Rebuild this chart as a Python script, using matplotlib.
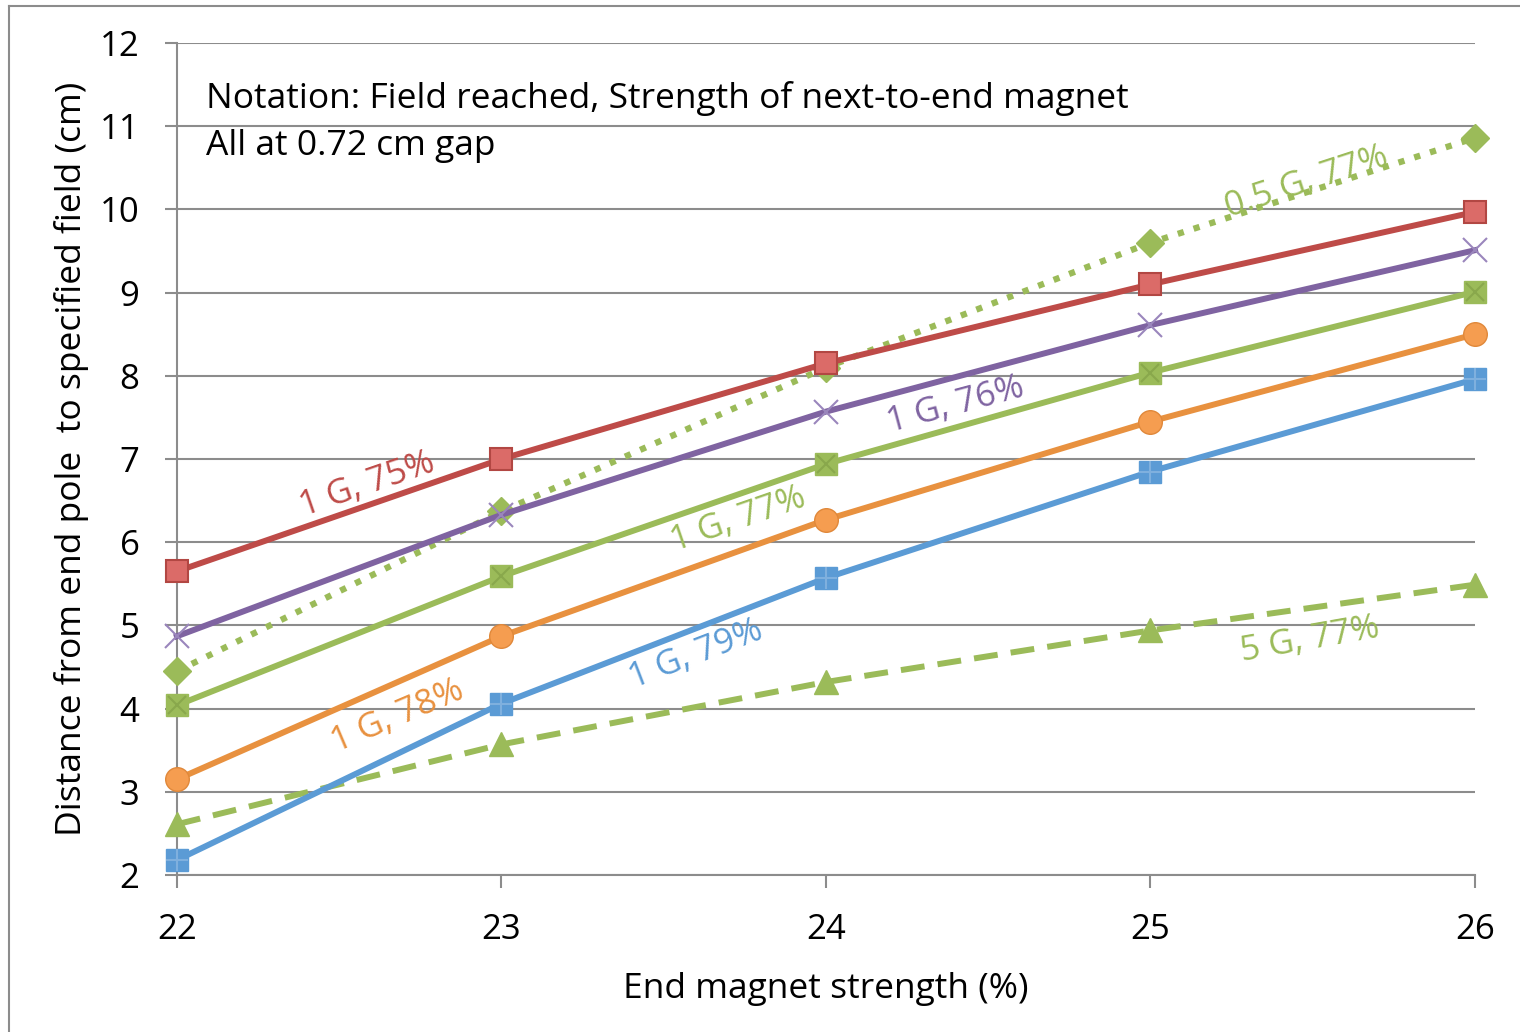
import numpy as np
import matplotlib.pyplot as plt
from matplotlib.lines import Line2D

plt.rcParams['font.family'] = ['Open Sans', 'DejaVu Sans']

# Данные
x = [22, 23, 24, 25, 26]
g1_75 = [5.65, 7.0, 8.15, 9.1, 9.97]
g1_76 = [4.87, 6.33, 7.57, 8.61, 9.51]
g1_77 = [4.04, 5.59, 6.94, 8.04, 9.01]
g1_78 = [3.15, 4.87, 6.27, 7.45, 8.5]
g1_79 = [2.18, 4.06, 5.57, 6.85, 7.96]
g5_77 = [2.61, 3.57, 4.32, 4.94, 5.49]
g05_77 = [4.45, 6.37, 8.1, 9.6, 10.86]

red = '#BE4B48'
purple = '#7F63A1'
green = '#9BBB59'
orange = '#E8913F'
blue = '#5B9BD5'

fig = plt.figure(figsize=(15.2, 10.32), dpi=100)
ax = fig.add_axes([0.1164, 0.1521, 0.854, 0.8062])

lw = 4.3
ax.plot(x, g05_77, ':', color=green, lw=4.5, marker='D', ms=14, mfc=green, mec=green, zorder=3)
ax.plot(x, g5_77, '--', color=green, lw=4.3, dashes=(4, 2.2), marker='^', ms=17, mfc=green, mec=green, zorder=3)
ax.plot(x, g1_79, '-', color=blue, lw=lw, marker='s', ms=16, mfc=blue, mec=blue, zorder=4)
ax.plot(x, g1_79, ' ', marker='+', ms=16, mec='#7FB0DE', mew=1.5, zorder=5)
ax.plot(x, g1_78, '-', color=orange, lw=lw, marker='o', ms=17, mfc='#F59D50', mec='#E0883A', zorder=4)
ax.plot(x, g1_77, '-', color=green, lw=lw, marker='s', ms=16, mfc=green, mec=green, zorder=4)
ax.plot(x, g1_77, ' ', marker='x', ms=13, mec='#89A84C', mew=1.5, zorder=5)
ax.plot(x, g1_76, '-', color=purple, lw=lw, marker='x', ms=17, mec='#9A86BC', mew=1.5, zorder=4)
ax.plot(x, g1_75, '-', color=red, lw=lw, marker='s', ms=16, mfc='#DB6B68', mec='#B24743', mew=1.5, zorder=4)

ax.set_xlim(22, 26)
ax.set_ylim(2, 12)
ax.set_xticks(x)
ax.set_yticks(range(2, 13))
ax.grid(axis='y', color='#8C8C8C', lw=1.5)
ax.set_axisbelow(True)
for s in ['top', 'right']:
    ax.spines[s].set_visible(False)
for s in ['left', 'bottom']:
    ax.spines[s].set_color('#8C8C8C')
    ax.spines[s].set_linewidth(1.5)
ax.tick_params(axis='both', labelsize=25, color='#8C8C8C', width=1.5, length=9, direction='out')
ax.tick_params(axis='x', pad=18)
ax.tick_params(axis='y', pad=18)
for ln in ax.lines:
    ln.set_clip_on(False)

ax.set_xlabel('End magnet strength (%)', fontsize=25.5, labelpad=18)
ax.set_ylabel('Distance from end pole  to specified field (cm)', fontsize=25.5, labelpad=8)

# Подписи кривых
lab = dict(fontsize=25, ha='center', va='center', rotation_mode='anchor')
ax.text(22.585, 6.69, '1 G, 75%', color=red, rotation=19, **lab)
ax.text(24.40, 7.65, '1 G, 76%', color=purple, rotation=15, **lab)
ax.text(23.73, 6.27, '1 G, 77%', color=green, rotation=19, **lab)
ax.text(22.68, 3.90, '1 G, 78%', color=orange, rotation=23, **lab)
ax.text(23.60, 4.65, '1 G, 79%', color=blue, rotation=21, **lab)
ax.text(25.49, 4.83, '5 G, 77%', color=green, rotation=10, **lab)
ax.text(25.48, 10.33, '0.5 G, 77%', color=green, rotation=18, **lab)

ax.text(22.09, 11.33, 'Notation: Field reached, Strength of next-to-end magnet',
        fontsize=25.5, ha='left', va='center')
ax.text(22.09, 10.76, 'All at 0.72 cm gap', fontsize=25.5, ha='left', va='center')

# Рамка (только верх и лево)
fig.lines.append(Line2D([8.5 / 1520, 1], [1 - 5.5 / 1032] * 2, transform=fig.transFigure,
                        color='#8C8C8C', lw=1.5))
fig.lines.append(Line2D([8.5 / 1520] * 2, [0, 1 - 5.5 / 1032], transform=fig.transFigure,
                        color='#8C8C8C', lw=1.5))

fig.savefig('out.png', dpi=100)
